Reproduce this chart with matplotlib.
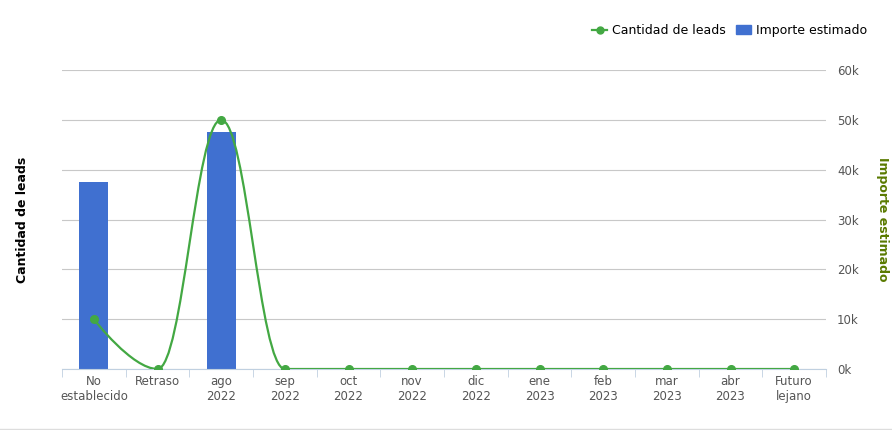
import matplotlib.pyplot as plt
import numpy as np
from matplotlib.path import Path
from matplotlib.patches import PathPatch
from matplotlib.lines import Line2D
from matplotlib.patches import Patch

categories = ['No\nestablecido', 'Retraso', 'ago\n2022', 'sep\n2022', 'oct\n2022', 'nov\n2022',
              'dic\n2022', 'ene\n2023', 'feb\n2023', 'mar\n2023', 'abr\n2023', 'Futuro\nlejano']
importe = [37500, 0, 47500, 0, 0, 0, 0, 0, 0, 0, 0, 0]
leads = [1, 0, 5, 0, 0, 0, 0, 0, 0, 0, 0, 0]

blue = '#4070d0'
green = '#43a843'

fig = plt.figure(figsize=(8.92, 4.30), dpi=100)
ax = fig.add_axes([62/892, 61/430, 764/892, 299/430])
ax2 = ax.twinx()
x = np.arange(len(categories))

ax2.bar(x, importe, width=0.46, color=blue, zorder=2)
ax2.set_ylim(0, 60000)
ax2.set_yticks(np.arange(0, 60001, 10000))
ax2.set_yticklabels([f'{v//1000}k' for v in range(0, 60001, 10000)])
ax2.tick_params(axis='y', length=0, labelsize=8.5, colors='#555555', pad=8)
ax2.set_ylabel('Importe estimado', fontsize=9, fontweight='bold', color='#5a7a00', labelpad=12, rotation=270, va='bottom')
ax2.yaxis.grid(True, color='#c8c8c8', lw=0.8)
ax2.set_axisbelow(True)

ax.set_ylim(0, 6)
ax.set_yticks([])
ax.set_xlim(-0.5, len(categories) - 0.5)
ax.set_xticks(x)
ax.set_xticklabels(categories)
ax.set_xticks(np.arange(-0.5, len(categories)), minor=True)
ax.tick_params(axis='x', which='major', length=0, labelsize=8.5, colors='#555555', pad=4)
ax.tick_params(axis='x', which='minor', length=6, color='#c0d0e0')
ax.set_ylabel('Cantidad de leads', fontsize=9, fontweight='bold', labelpad=24)
for s in ['top', 'left', 'right']:
    ax.spines[s].set_visible(False)
    ax2.spines[s].set_visible(False)
ax.spines['bottom'].set_color('#c0d0e0')
ax2.spines['bottom'].set_visible(False)

# Highcharts-like spline
ys = np.array(leads, float)
verts = [(x[0], ys[0])]
codes = [Path.MOVETO]
sm = 1.5
ctrl = []
for i in range(len(x)):
    if 0 < i < len(x) - 1:
        lx = (sm * x[i] + x[i-1]) / (sm + 1); ly = (sm * ys[i] + ys[i-1]) / (sm + 1)
        rx = (sm * x[i] + x[i+1]) / (sm + 1); ry = (sm * ys[i] + ys[i+1]) / (sm + 1)
        corr = ((ry - ly) * (rx - x[i])) / (rx - lx) + ys[i] - ry
        ly += corr; ry += corr
        if ly > max(ys[i-1], ys[i]):
            ly = max(ys[i-1], ys[i]); ry = 2 * ys[i] - ly
        elif ly < min(ys[i-1], ys[i]):
            ly = min(ys[i-1], ys[i]); ry = 2 * ys[i] - ly
        if ry > max(ys[i+1], ys[i]):
            ry = max(ys[i+1], ys[i]); ly = 2 * ys[i] - ry
        elif ry < min(ys[i+1], ys[i]):
            ry = min(ys[i+1], ys[i]); ly = 2 * ys[i] - ry
        ctrl.append(((lx, ly), (rx, ry)))
    else:
        ctrl.append(((x[i], ys[i]), (x[i], ys[i])))
for i in range(1, len(x)):
    verts += [ctrl[i-1][1], ctrl[i][0], (x[i], ys[i])]
    codes += [Path.CURVE4] * 3
ax.add_patch(PathPatch(Path(verts, codes), fill=False, edgecolor=green, lw=1.6, zorder=3))
ax.plot(x, ys, 'o', color=green, ms=5.5, zorder=4)
ax.set_zorder(ax2.get_zorder() + 1)
ax.patch.set_visible(False)

handles = [Line2D([], [], color=green, marker='o', ms=5, lw=1.6), Patch(color=blue)]
fig.legend(handles, ['Cantidad de leads', 'Importe estimado'], loc='upper right',
           bbox_to_anchor=(0.985, 0.97), ncol=2, frameon=False, fontsize=9,
           handlelength=1.2, columnspacing=0.8, handletextpad=0.4)
fig.add_artist(Line2D([0, 1], [1/430, 1/430], color='#dddddd', lw=1))
fig.savefig('out.png', dpi=100)
